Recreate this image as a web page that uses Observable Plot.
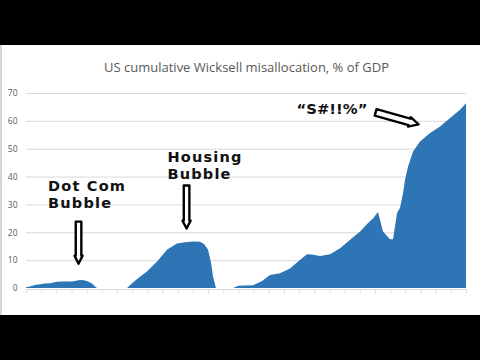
<!DOCTYPE html>
<html>
<head>
<meta charset="utf-8">
<script src="https://cdn.jsdelivr.net/npm/d3@7"></script>
<script src="https://cdn.jsdelivr.net/npm/@observablehq/plot@0.6"></script>
<style>
  html, body { margin: 0; padding: 0; background: #000; width: 480px; height: 360px; overflow: hidden; }
  #panel { position: absolute; left: 0; top: 45px; width: 480px; height: 270px; background: #fff; }
  #panel::before { content: ""; position: absolute; left: 0; top: 0; width: 2px; height: 100%; background: #d6d6d6; }
  #panel g[font-size="14.5"] text { letter-spacing: 1.2px; }
</style>
</head>
<body>
<div id="panel"></div>
<script>
const years = [1996.00,1996.26,1996.59,1997.25,1997.58,1998.04,1998.44,1999.03,1999.56,1999.82,2000.09,2000.35,2000.55,2000.68,
  2002.66,2003.05,2003.51,2003.97,2004.64,2005.29,2005.95,2006.48,2007.01,2007.47,2007.73,2008.00,2008.20,2008.33,2008.52,
  2009.65,2009.98,2010.96,2011.56,2012.08,2012.74,2013.40,2013.93,2014.52,2014.85,2015.38,2016.04,2016.70,2017.36,2018.02,
  2018.48,2018.88,2019.20,2019.53,2019.99,2020.19,2020.46,2020.65,2020.85,2020.98,2021.18,2021.51,2021.97,2022.63,2023.29,
  2023.95,2024.61,2025.00];
const values = [0.25,0.5,1.1,1.6,1.7,2.2,2.3,2.3,2.9,2.8,2.3,1.6,0.5,0,
  0,2.0,4.0,5.9,9.5,13.7,16.0,16.4,16.7,16.6,15.8,13.7,9.0,4.0,0,
  0,0.8,1.0,2.5,4.7,5.3,7.0,9.5,12.1,12.0,11.5,12.1,14.3,17.3,20.3,
  23.0,25.0,27.3,20.3,17.5,17.5,27.0,28.8,34.0,38.8,43.6,49.0,52.6,55.6,58.0,
  61.0,64.0,66.3];
const yTicks = [0,10,20,30,40,50,60,70];
const xTicks = d3.range(1996, 2026);

const bubbleText = ["Dot Com\nBubble", "Housing\nBubble"];
const bubbleYear = [1997.42, 2005.29];
const bubbleValue = [39.2, 49.6];
const shoutText = ["\u201CS#!!%\u201D"];
const shoutYear = [2013.80];
const shoutValue = [66.3];
const arrowYear = [1999.43, 2006.55, 2019.01];
const arrowValue = [24.0, 37.0, 63.2];
const arrowAngle = [180, 180, 105.6];
const arrowLength = [42, 43, 44.6];
const arrowWidth = [2.8, 2.8, 3.4];

const data = years.map((y, i) => ({year: y, value: values[i]}));
const bubbles = bubbleText.map((t, i) => ({text: t, year: bubbleYear[i], value: bubbleValue[i]}));
const shouts = shoutText.map((t, i) => ({text: t, year: shoutYear[i], value: shoutValue[i]}));

const blockArrow = {
  draw(ctx, l, r) {
    const w = r, h = r * 1.45, hl = r * 2.8;
    ctx.moveTo(-w, 0);
    ctx.lineTo(-w, hl - l);
    ctx.lineTo(-h, hl - l);
    ctx.lineTo(0, -l);
    ctx.lineTo(h, hl - l);
    ctx.lineTo(w, hl - l);
    ctx.lineTo(w, 0);
    ctx.closePath();
  }
};

const arrowMarks = arrowYear.map((yr, i) => Plot.vector([{year: yr, value: arrowValue[i]}], {
  x: "year", y: "value", rotate: arrowAngle[i], length: arrowLength[i], anchor: "start",
  shape: blockArrow, r: arrowWidth[i], fill: "white", stroke: "black", strokeWidth: 2.4, strokeLinejoin: "round"
}));

const chart = Plot.plot({
  width: 480,
  height: 270,
  marginLeft: 26,
  marginRight: 14,
  marginTop: 48,
  marginBottom: 27,
  style: {background: "#fff", fontFamily: "'Open Sans', sans-serif", fontSize: "8.5px", color: "#595959"},
  x: {domain: [1996, 2025]},
  y: {domain: [0, 70]},
  marks: [
    Plot.gridY(yTicks.filter(d => d > 0), {stroke: "#d9d9d9", strokeOpacity: 1, strokeWidth: 1}),
    Plot.ruleY([0], {stroke: "#d9d9d9", strokeWidth: 1, dy: 1}),
    Plot.axisX({ticks: xTicks, tickSize: 4, tickFormat: () => "", stroke: "#d9d9d9", dy: 1, label: null}),
    Plot.axisY({ticks: yTicks, tickSize: 0, tickPadding: 9, fill: "#595959", label: null}),
    Plot.areaY(data, {x: "year", y: "value", fill: "#2e75b6"}),
    Plot.text(["US cumulative Wicksell misallocation, % of GDP"], {
      frameAnchor: "top", dy: -31, fontSize: 13, fill: "#595959",
      fontFamily: "'Open Sans', sans-serif"
    }),
    Plot.text(bubbles, {
      x: "year", y: "value", text: "text", textAnchor: "start", lineAnchor: "top",
      lineHeight: 1.17, fontSize: 14.5, fontWeight: "bold", fill: "#111",
      fontFamily: "'DejaVu Sans', sans-serif"
    }),
    Plot.text(shouts, {
      x: "year", y: "value", text: "text", textAnchor: "start", lineAnchor: "top",
      fontSize: 14.8, fontWeight: "bold", fill: "#111",
      fontFamily: "'DejaVu Sans', sans-serif"
    }),
    ...arrowMarks
  ]
});
document.getElementById("panel").appendChild(chart);
</script>
</body>
</html>
